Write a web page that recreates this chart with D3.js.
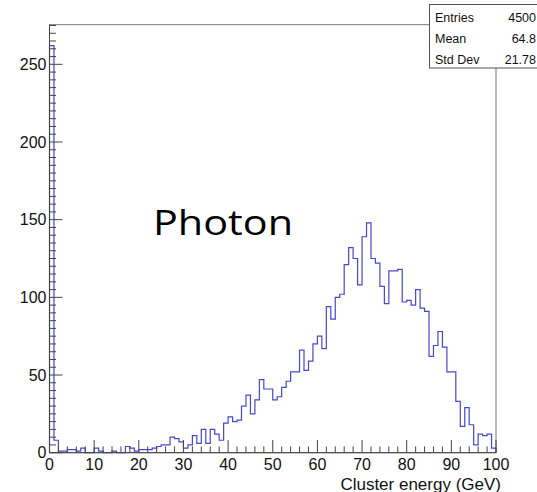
<!DOCTYPE html>
<html>
<head>
<meta charset="utf-8">
<script src="https://cdn.jsdelivr.net/npm/d3@7"></script>
<style>
  body { margin: 0; background: white; }
  text { font-family: "Liberation Sans", Arial, sans-serif; }
</style>
</head>
<body>
<script>
// Bin counts, 100 bins of 1 GeV from 0 to 100
const counts = [
    262, 8, 1, 1, 2, 2, 1, 3, 0, 0,
    3, 1, 0, 0, 1, 0, 0, 4, 3, 1,
    2, 2, 2, 3, 4, 5, 5, 10, 9, 7,
    3, 5, 11, 6, 15, 6, 15, 12, 8, 19,
    23, 20, 21, 30, 37, 25, 34, 47, 41, 41,
    34, 36, 42, 46, 52, 52, 66, 53, 59, 70,
    75, 67, 94, 86, 100, 102, 121, 132, 125, 108,
    139, 148, 125, 122, 107, 96, 117, 117, 118, 97,
    98, 95, 105, 93, 91, 62, 69, 78, 68, 52,
    52, 33, 17, 29, 18, 5, 12, 11, 12, 3
];
const binEdges = d3.range(0, 101);

// Axis ticks
const xMajorTicks = [0, 10, 20, 30, 40, 50, 60, 70, 80, 90, 100];
const xMinorTicks = d3.range(0, 101, 2);
const yMajorTicks = [0, 50, 100, 150, 200, 250];
const yMinorTicks = d3.range(0, 276, 5);

// Stats box
const statNames = ["Entries", "Mean", "Std Dev"];
const statValues = ["4500", "64.8", "21.78"];

const width = 537, height = 492;
const margin = { left: 49.5, right: 41, top: 24.7, bottom: 39.3 };

const x = d3.scaleLinear().domain([0, 100]).range([margin.left, width - margin.right]);
const y = d3.scaleLinear().domain([0, 275.5]).range([height - margin.bottom, margin.top]);

const svg = d3.select("body")
    .append("svg")
    .attr("width", width)
    .attr("height", height);

// Frame (top and right sides)
svg.append("rect")
    .attr("x", x(0))
    .attr("y", y(275.5))
    .attr("width", x(100) - x(0))
    .attr("height", y(0) - y(275.5))
    .attr("fill", "none")
    .attr("stroke", "#777")
    .attr("stroke-width", 1);

// Histogram outline as a step path
const path = d3.path();
path.moveTo(x(0), y(0));
counts.forEach((c, i) => {
    path.lineTo(x(binEdges[i]), y(c));
    path.lineTo(x(binEdges[i + 1]), y(c));
});
path.lineTo(x(100), y(0));

svg.append("path")
    .attr("d", path)
    .attr("fill", "none")
    .attr("stroke", "#4747cf")
    .attr("stroke-width", 1.2);

// X axis: ticks point up into the frame
const xAxis = svg.append("g").attr("transform", `translate(0,${y(0)})`);
xAxis.append("line")
    .attr("x1", x(0)).attr("x2", x(100))
    .attr("stroke", "#444");
xAxis.selectAll(".xminor")
    .data(xMinorTicks)
    .enter()
    .append("line")
    .attr("x1", d => x(d)).attr("x2", d => x(d))
    .attr("y1", 0)
    .attr("y2", d => (d % 10 === 0 ? -12.7 : -6.3))
    .attr("stroke", "#444");
xAxis.selectAll(".xlabel")
    .data(xMajorTicks)
    .enter()
    .append("text")
    .attr("x", d => x(d))
    .attr("y", 17.5)
    .attr("text-anchor", "middle")
    .attr("font-size", "16px")
    .attr("fill", "#111")
    .text(d => d);

// Y axis: ticks point right into the frame
const yAxis = svg.append("g").attr("transform", `translate(${x(0)},0)`);
yAxis.append("line")
    .attr("y1", y(0)).attr("y2", y(275.5))
    .attr("stroke", "#444");
yAxis.selectAll(".yminor")
    .data(yMinorTicks)
    .enter()
    .append("line")
    .attr("y1", d => y(d)).attr("y2", d => y(d))
    .attr("x1", 0)
    .attr("x2", d => (d % 50 === 0 ? 13 : 6.5))
    .attr("stroke", "#444");
yAxis.selectAll(".ylabel")
    .data(yMajorTicks)
    .enter()
    .append("text")
    .attr("x", -3)
    .attr("y", d => y(d))
    .attr("dy", "0.36em")
    .attr("text-anchor", "end")
    .attr("font-size", "16px")
    .attr("fill", "#111")
    .text(d => d);

// X axis title
svg.append("text")
    .attr("x", x(100) + 5)
    .attr("y", 489.5)
    .attr("text-anchor", "end")
    .attr("font-size", "17px")
    .attr("fill", "#111")
    .text("Cluster energy (GeV)");

// Stats box in the top right corner
const statBox = svg.append("g");
statBox.append("rect")
    .attr("x", 429.5)
    .attr("y", 4.5)
    .attr("width", 120)
    .attr("height", 63.5)
    .attr("fill", "white")
    .attr("stroke", "#555")
    .attr("stroke-width", 1);
statNames.forEach((name, i) => {
    statBox.append("text")
        .attr("x", 435)
        .attr("y", 21.5 + i * 21.3)
        .attr("font-size", "12.5px")
        .attr("fill", "#111")
        .text(name);
    statBox.append("text")
        .attr("x", 536)
        .attr("y", 21.5 + i * 21.3)
        .attr("text-anchor", "end")
        .attr("font-size", "12.5px")
        .attr("fill", "#111")
        .text(statValues[i]);
});

// Big label, glyphs stretched to the reference width
svg.append("text")
    .attr("x", 153)
    .attr("y", 235)
    .style("font-family", "'Open Sans', sans-serif")
    .attr("font-size", "34px")
    .attr("textLength", 140)
    .attr("lengthAdjust", "spacingAndGlyphs")
    .attr("fill", "#000")
    .text("Photon");
</script>
</body>
</html>
